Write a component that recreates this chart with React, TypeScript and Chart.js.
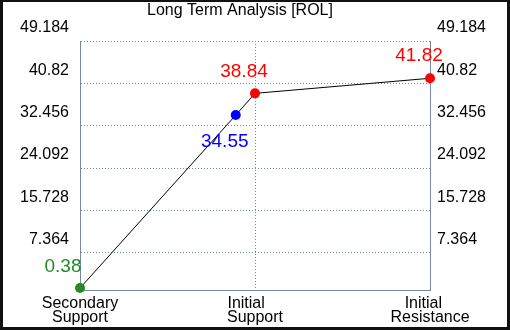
import React, { useEffect, useRef } from "react";
import { Chart, registerables } from "chart.js";

Chart.register(...registerables);

const titleText = "Long Term Analysis [ROL]";
const xLabels: string[][] = [["Secondary", "Support"], ["Initial    ", "Support"], ["Initial   ", "Resistance"]];
const xTickValues = [0, 1, 2];
const pointX = [0, 0.89, 1, 2];
const pointY = [0.38, 34.55, 38.84, 41.82];
const pointLabels = ["0.38", "34.55", "38.84", "41.82"];
const pointColors = ["#228b22", "#0000ff", "#ff0000", "#ff0000"];
const labelOffsets = [[-17, -21], [-11, 27], [-11, -22], [-11, -23]];
const yTicks = [7.364, 15.728, 24.092, 32.456, 40.82, 49.184];
const yMin = 0;
const yMax = 49.184;

const FONT = "Arial, 'Liberation Sans', sans-serif";
const GRID = "#7788aa";

export default function App() {
  const ref = useRef<HTMLCanvasElement | null>(null);
  useEffect(() => {
    if (!ref.current) return;
    const framePlugin = {
      id: "frame",
      beforeDraw(chart: any) {
        const ctx = chart.ctx;
        ctx.save();
        ctx.fillStyle = "#111";
        ctx.fillRect(0, 0, chart.width, chart.height);
        ctx.fillStyle = "#fff";
        ctx.fillRect(3, 2, chart.width - 6, chart.height - 5);
        ctx.fillStyle = "#000";
        ctx.font = "16px " + FONT;
        ctx.textAlign = "center";
        ctx.textBaseline = "alphabetic";
        ctx.fillText(titleText, 240, 15);
        ctx.restore();
      },
      afterDatasetsDraw(chart: any) {
        const ctx = chart.ctx;
        const meta = chart.getDatasetMeta(0);
        ctx.save();
        ctx.font = "19px " + FONT;
        ctx.textAlign = "center";
        ctx.textBaseline = "middle";
        meta.data.forEach((el: any, i: number) => {
          ctx.fillStyle = pointColors[i];
          ctx.fillText(pointLabels[i], el.x + labelOffsets[i][0], el.y + labelOffsets[i][1]);
        });
        ctx.restore();
      },
    };
    const yTickSetter = (scale: any) => {
      scale.ticks = yTicks.map((v) => ({ value: v }));
    };
    const chart = new Chart(ref.current, {
      type: "line",
      data: {
        datasets: [
          {
            data: pointX.map((x, i) => ({ x, y: pointY[i] })),
            borderColor: "#000",
            borderWidth: 1,
            pointBackgroundColor: pointColors,
            pointBorderColor: pointColors,
            pointBorderWidth: 0,
            pointRadius: 5,
            fill: false,
            tension: 0,
            clip: false,
          },
        ],
      },
      options: {
        animation: false,
        responsive: false,
        layout: { padding: { top: 41, left: 0, right: 0, bottom: 0 } },
        plugins: { legend: { display: false }, title: { display: false }, tooltip: { enabled: false } },
        scales: {
          x: {
            type: "linear",
            position: "bottom",
            min: 0,
            max: 2,
            afterBuildTicks: (scale: any) => {
              scale.ticks = xTickValues.map((v) => ({ value: v }));
            },
            afterFit: (scale: any) => {
              scale.height = 40;
            },
            grid: { color: GRID, lineWidth: 1, drawTicks: false },
            border: { display: true, color: GRID, width: 1, dash: [1, 2] },
            ticks: {
              padding: 7,
              color: "#000",
              font: { family: FONT, size: 16, lineHeight: 0.875 },
              maxRotation: 0,
              autoSkip: false,
              callback: (v: any) => {
                const i = xTickValues.indexOf(Number(v));
                return i >= 0 ? xLabels[i] : "";
              },
            },
          },
          y: {
            type: "linear",
            position: "left",
            min: yMin,
            max: yMax,
            afterBuildTicks: yTickSetter,
            afterFit: (scale: any) => {
              scale.width = 80;
            },
            grid: { color: GRID, lineWidth: 1, drawTicks: false },
            border: { display: true, color: GRID, width: 1, dash: [1, 2] },
            ticks: {
              padding: 11,
              labelOffset: -13,
              color: "#000",
              font: { family: FONT, size: 16 },
              callback: (v: any) => String(v),
            },
          },
          y2: {
            type: "linear",
            position: "right",
            min: yMin,
            max: yMax,
            afterBuildTicks: yTickSetter,
            afterFit: (scale: any) => {
              scale.width = 80;
            },
            grid: { display: false, drawTicks: false },
            border: { display: true, color: GRID, width: 1 },
            ticks: {
              padding: 7,
              labelOffset: -13,
              color: "#000",
              font: { family: FONT, size: 16 },
              callback: (v: any) => String(v),
            },
          },
        },
      },
      plugins: [framePlugin],
    } as any);
    return () => chart.destroy();
  }, []);
  return (
    <div style={{ position: "fixed", left: 0, top: 0, width: 510, height: 330 }}>
      <canvas ref={ref} width={510} height={330} style={{ display: "block", width: 510, height: 330 }} />
    </div>
  );
}
